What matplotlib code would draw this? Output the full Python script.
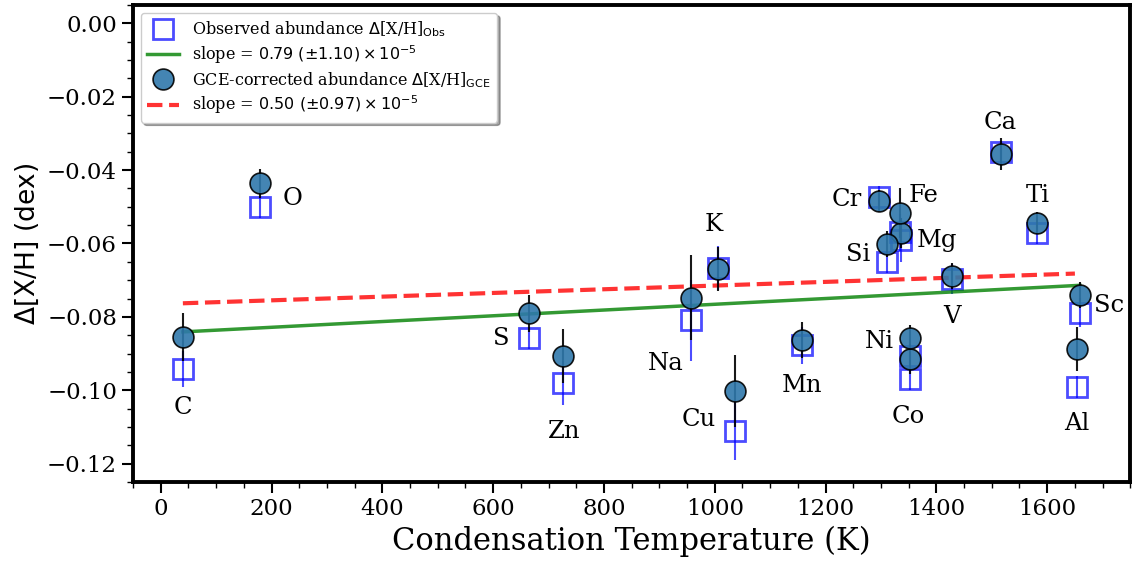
import numpy as np
import matplotlib.pyplot as plt
from matplotlib.lines import Line2D

plt.rcParams['font.family'] = 'DejaVu Serif'
plt.rcParams['mathtext.fontset'] = 'dejavusans'

elements = ['C', 'O', 'Na', 'Mg', 'Al', 'Si', 'S', 'K', 'Ca', 'Sc',
            'Ti', 'V', 'Cr', 'Mn', 'Fe', 'Co', 'Ni', 'Cu', 'Zn']
tc = np.array([40, 180, 958, 1336, 1653, 1310, 664, 1006, 1517, 1659,
               1582, 1429, 1296, 1158, 1334, 1352, 1353, 1037, 726])

obs = np.array([-0.0942, -0.0500, -0.0809, -0.0590, -0.0990, -0.0650, -0.0858, -0.0667, -0.0350, -0.0789,
                -0.0572, -0.0697, -0.0474, -0.0878, -0.0570, -0.0969, -0.0908, -0.1110, -0.0980])
obs_err = np.array([0.005, 0.003, 0.011, 0.006, 0.003, 0.003, 0.003, 0.006, 0.003, 0.004,
                    0.003, 0.004, 0.003, 0.005, 0.005, 0.003, 0.003, 0.008, 0.006])

gce = np.array([-0.0855, -0.0436, -0.0748, -0.0571, -0.0888, -0.0602, -0.0790, -0.0670, -0.0356, -0.0741,
                -0.0545, -0.0688, -0.0483, -0.0863, -0.0517, -0.0915, -0.0858, -0.1001, -0.0906])
gce_err = np.array([0.0066, 0.004, 0.0116, 0.004, 0.006, 0.0035, 0.005, 0.006, 0.0043, 0.0036,
                    0.003, 0.0036, 0.003, 0.005, 0.0069, 0.004, 0.0035, 0.0098, 0.0073])

# fitted lines (end points)
fit_obs_x = [40, 1659]
fit_obs_y = [-0.0841, -0.0714]
fit_gce_x = [40, 1650]
fit_gce_y = [-0.0763, -0.0682]

# where each element name sits
label_pos = {'C': (40, -0.1048), 'O': (238, -0.0478), 'S': (615, -0.0860), 'Zn': (729, -0.1113),
             'Na': (912, -0.0928), 'K': (998, -0.0548), 'Cu': (971, -0.1080), 'Mn': (1157, -0.0988),
             'Cr': (1238, -0.0480), 'Fe': (1377, -0.0469), 'Mg': (1401, -0.0592), 'Si': (1258, -0.0630),
             'V': (1428, -0.0798), 'Ti': (1583, -0.0469), 'Ca': (1516, -0.0271), 'Sc': (1711, -0.0770),
             'Al': (1653, -0.1090), 'Ni': (1298, -0.0866), 'Co': (1350, -0.1072)}

fig = plt.figure(figsize=(11.32, 5.63), dpi=100)
ax = fig.add_axes([0.1175, 0.144, 0.881, 0.847])

ax.errorbar(tc, obs, yerr=obs_err, fmt='s', ms=14, mfc='none', mec='blue', mew=2,
            ecolor='blue', elinewidth=1.5, alpha=0.7, zorder=2)
ax.plot(fit_obs_x, fit_obs_y, color='green', lw=2.5, alpha=0.8, zorder=3)
ax.errorbar(tc, gce, yerr=gce_err, fmt='o', ms=15, mfc='#2f78ab', mec='black', mew=1.2,
            ecolor='black', elinewidth=1.5, alpha=0.9, zorder=4)
ax.plot(fit_gce_x, fit_gce_y, color='red', lw=3, ls='--', alpha=0.8, zorder=3)

for el in elements:
    x, y = label_pos[el]
    ax.text(x, y, el, fontsize=17.5, ha='center', va='center')

ax.set_xlim(-50, 1750)
ax.set_ylim(-0.125, 0.005)
ax.set_xticks(np.arange(0, 1601, 200))
ax.set_xticks(np.arange(-50, 1751, 50), minor=True)
ax.set_yticks(np.arange(-0.12, 0.001, 0.02))
ax.set_yticks(np.arange(-0.125, 0.0051, 0.005), minor=True)
ax.tick_params(which='major', length=8, width=1.5, labelsize=16.5)
ax.tick_params(which='minor', length=4, width=1.0)
for s in ax.spines.values():
    s.set_linewidth(2.8)

ax.set_xlabel('Condensation Temperature (K)', fontsize=22, labelpad=4)
ax.set_ylabel(r'$\Delta$[X/H] (dex)', fontsize=19, family='DejaVu Sans')

handles = [
    Line2D([], [], ls='', marker='s', ms=14, mfc='none', mec='blue', mew=2, alpha=0.7),
    Line2D([], [], color='green', lw=2.5, alpha=0.8),
    Line2D([], [], ls='', marker='o', ms=15, mfc='#2f78ab', mec='black', mew=1.2, alpha=0.9),
    Line2D([], [], color='red', lw=3, ls='--', alpha=0.8),
]
labels = [r'Observed abundance $\Delta$[X/H]$_{\rm Obs}$',
          r'slope = $0.79\ (\pm1.10)\times10^{-5}$',
          r'GCE-corrected abundance $\Delta$[X/H]$_{\rm GCE}$',
          r'slope = $0.50\ (\pm0.97)\times10^{-5}$']
ax.legend(handles, labels, loc='upper left', fontsize=11.5, labelspacing=0.25,
          shadow=True, fancybox=True, framealpha=1, borderpad=0.4)

plt.savefig('out.png', dpi=100)
plt.close()
